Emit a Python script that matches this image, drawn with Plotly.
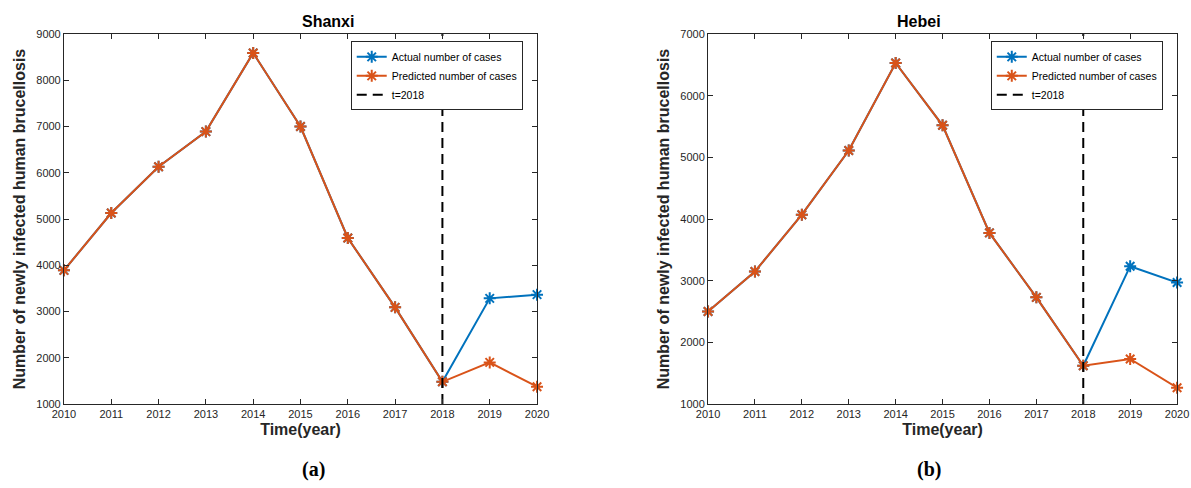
import plotly.graph_objects as go

years = list(range(2010, 2021))
shanxi_actual = [3890, 5130, 6130, 6890, 8590, 7000, 4590, 3090, 1480, 3285, 3365]
shanxi_pred = [3890, 5130, 6130, 6890, 8590, 7000, 4590, 3090, 1480, 1900, 1375]
hebei_actual = [2500, 3150, 4070, 5110, 6530, 5520, 3775, 2730, 1620, 3235, 2970]
hebei_pred = [2500, 3150, 4070, 5110, 6530, 5520, 3775, 2730, 1620, 1730, 1265]
titles = ["Shanxi", "Hebei"]
captions = ["(a)", "(b)"]
y_ranges = [[1000, 9000], [1000, 7000]]
cutoff = 2018

BLUE = "#0072BD"
ORANGE = "#D95319"
FONT = "Liberation Sans, Arial, sans-serif"

fig = go.Figure()

panels = [(shanxi_actual, shanxi_pred), (hebei_actual, hebei_pred)]
xdoms = [[0.0537, 0.4509], [0.5945, 0.9883]]
ydom = [0.1721, 0.9303]

for i, (act, pred) in enumerate(panels):
    xa = "x" if i == 0 else "x2"
    ya = "y" if i == 0 else "y2"
    lg = "legend" if i == 0 else "legend2"
    fig.add_trace(go.Scatter(
        x=years, y=act, mode="lines+markers", name="Actual number of cases",
        line=dict(color=BLUE, width=2),
        marker=dict(symbol="asterisk-open", size=10, color=BLUE, line=dict(color=BLUE, width=2)),
        xaxis=xa, yaxis=ya, legend=lg, cliponaxis=False))
    fig.add_trace(go.Scatter(
        x=years, y=pred, mode="lines+markers", name="Predicted number of cases",
        line=dict(color=ORANGE, width=2),
        marker=dict(symbol="asterisk-open", size=10, color=ORANGE, line=dict(color=ORANGE, width=2)),
        xaxis=xa, yaxis=ya, legend=lg, cliponaxis=False))
    fig.add_trace(go.Scatter(
        x=[cutoff, cutoff], y=y_ranges[i], mode="lines", name="t=2018",
        line=dict(color="black", width=2, dash="10px,6px"),
        xaxis=xa, yaxis=ya, legend=lg))

axis_common = dict(
    showgrid=False, zeroline=False, showline=True, linecolor="#262626", linewidth=1,
    mirror="ticks", ticks="inside", ticklen=5, tickcolor="#262626",
    tickfont=dict(family=FONT, size=11, color="#262626"), automargin=False,
    ticklabeloverflow="allow",
)

for i in range(2):
    sfx = "" if i == 0 else "2"
    fig.layout["xaxis" + sfx] = dict(
        axis_common, domain=xdoms[i], range=[2010, 2020], dtick=1, tick0=2010,
        anchor="y" + sfx,
        title=dict(text="<b>Time(year)</b>", font=dict(family=FONT, size=16, color="#262626"), standoff=4),
    )
    fig.layout["yaxis" + sfx] = dict(
        axis_common, domain=ydom, range=y_ranges[i], dtick=1000,
        anchor="x" + sfx,
        title=dict(text="<b>Number of newly infected human brucellosis</b>",
                   font=dict(family=FONT, size=16, color="#262626"), standoff=6),
    )
    fig.add_annotation(
        text="<b>" + titles[i] + "</b>", xref="paper", yref="paper",
        x=(xdoms[i][0] + xdoms[i][1]) / 2, y=ydom[1], yanchor="bottom", yshift=2,
        showarrow=False, font=dict(family=FONT, size=16, color="black"))
    fig.add_annotation(
        text="<b>" + captions[i] + "</b>", xref="paper", yref="paper",
        x=(xdoms[i][0] + xdoms[i][1]) / 2, y=0.037, yanchor="middle",
        showarrow=False, font=dict(family="Liberation Serif, Times New Roman, serif", size=20, color="black"))

legend_common = dict(
    bgcolor="white", bordercolor="#262626", borderwidth=1,
    font=dict(family=FONT, size=10.5, color="black"),
    xanchor="right", yanchor="top", tracegroupgap=0, itemwidth=30,
)
fig.update_layout(
    width=1191, height=488,
    margin=dict(l=0, r=0, t=0, b=0, autoexpand=False),
    paper_bgcolor="white", plot_bgcolor="white",
    legend=dict(legend_common, x=xdoms[0][1] - 0.012, y=ydom[1] - 0.015),
    legend2=dict(legend_common, x=xdoms[1][1] - 0.012, y=ydom[1] - 0.015),
    showlegend=True,
)

fig.write_html("out.html")
